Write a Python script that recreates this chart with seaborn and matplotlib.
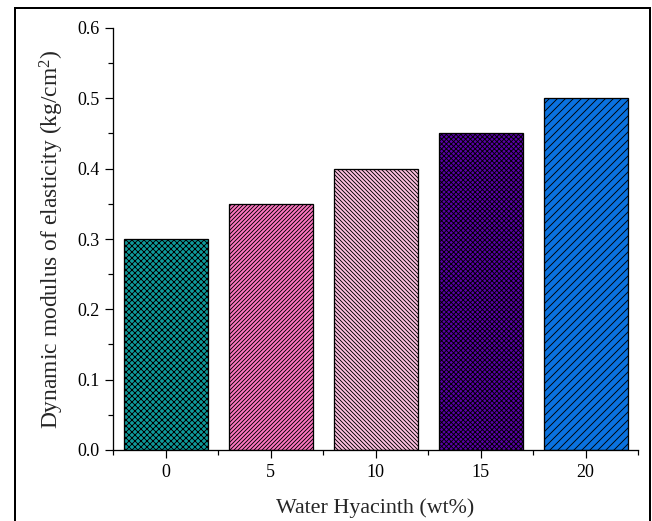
import matplotlib
matplotlib.use("Agg")
import matplotlib.pyplot as plt
import seaborn as sns
import pandas as pd
from matplotlib.patches import Rectangle
from matplotlib.ticker import MultipleLocator, FormatStrFormatter, FixedLocator

categories = ["0", "5", "10", "15", "20"]
values = [0.30, 0.35, 0.40, 0.45, 0.50]
colors = ["#0E9A9A", "#FF78C2", "#FFC2E2", "#5A00A8", "#0A72E0"]
hatches = ["xxxx", "//////", "\\\\\\\\\\\\", "xxxxx", "///"]
yticks = [0.0, 0.1, 0.2, 0.3, 0.4, 0.5, 0.6]

sns.set_style("ticks")
plt.rcParams["font.family"] = ["Liberation Serif", "DejaVu Serif"]
plt.rcParams["mathtext.fontset"] = "custom"
plt.rcParams["mathtext.rm"] = "Liberation Serif"
plt.rcParams["mathtext.it"] = "Liberation Serif:italic"
plt.rcParams["hatch.linewidth"] = 0.9

DPI = 72
fig = plt.figure(figsize=(652 / DPI, 521 / DPI), dpi=DPI)
ax = fig.add_axes([113 / 652, 1 - 450 / 521, (638 - 113) / 652, (450 - 28) / 521])

df = pd.DataFrame({"x": categories, "y": values})
sns.barplot(data=df, x="x", y="y", hue="x", palette=colors, dodge=False,
            width=0.8, legend=False, ax=ax, edgecolor="black", linewidth=1.3,
            saturation=1)

for cont, h in zip(ax.containers, hatches):
    for p in cont:
        p.set_hatch(h)
        p.set_edgecolor("black")

ax.set_xlim(-0.5, 4.5)
ax.set_ylim(0, 0.6)
ax.set_yticks(yticks)
ax.yaxis.set_major_formatter(FormatStrFormatter("%.1f"))
ax.yaxis.set_minor_locator(MultipleLocator(0.05))
ax.xaxis.set_minor_locator(FixedLocator([-0.5, 0.5, 1.5, 2.5, 3.5, 4.5]))

for s in ["top", "right"]:
    ax.spines[s].set_visible(False)
for s in ["left", "bottom"]:
    ax.spines[s].set_linewidth(1.3)
    ax.spines[s].set_color("black")

ax.tick_params(axis="both", which="major", direction="out", length=8, width=1.2,
               labelsize=18, colors="black", pad=5)
ax.tick_params(axis="both", which="minor", direction="out", length=5, width=1.2,
               colors="black")
ax.tick_params(axis="x", which="major", pad=6)

ax.set_xlabel("Water Hyacinth (wt%)", fontsize=22, labelpad=17)
ax.set_ylabel(r"Dynamic modulus of elasticity (kg/cm$^{2}$)", fontsize=23.5, labelpad=12)

border = Rectangle((15 / 652, -0.05), (650 - 15) / 652, 1 - 8 / 521 + 0.05,
                   transform=fig.transFigure, fill=False, edgecolor="black",
                   linewidth=2, clip_on=False)
fig.patches.append(border)

fig.savefig("out.png", dpi=DPI)
